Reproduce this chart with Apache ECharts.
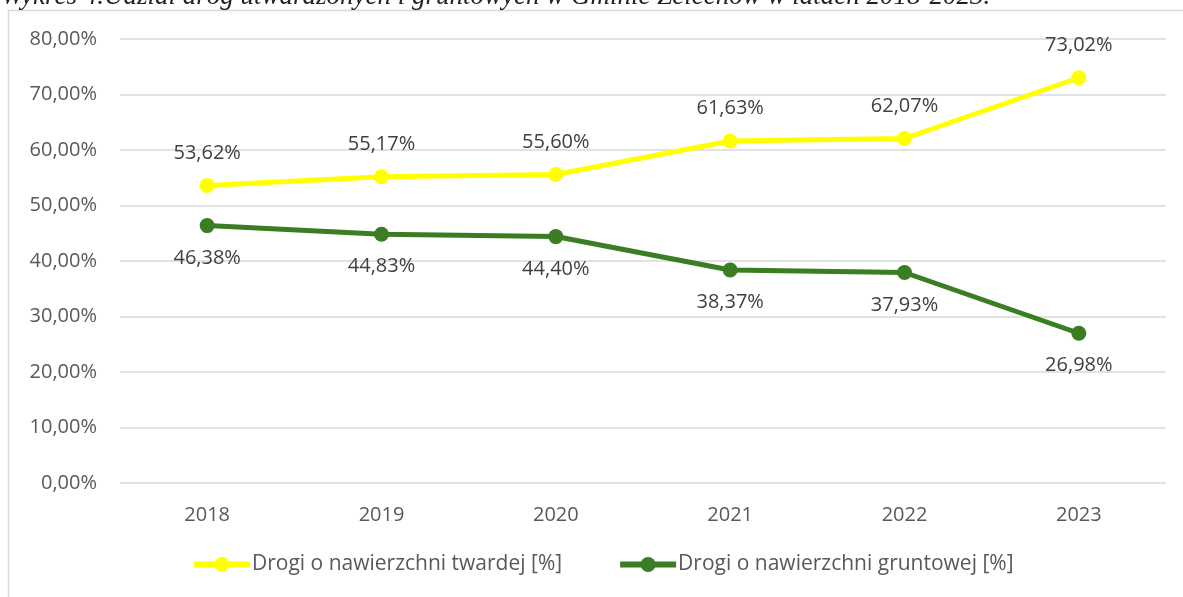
<!DOCTYPE html>
<html lang="pl">
<head>
	<meta charset="UTF-8">
	<title>Wykres 4</title>
	<script src="https://cdn.jsdelivr.net/npm/echarts@6/dist/echarts.min.js"></script>
	<style>
		html, body { margin: 0; padding: 0; background: #fff; }
		#chart { width: 1183px; height: 597px; }
	</style>
</head>
<body>
	<div id="chart"></div>
	<script>
		// dane z wykresu
		var lata = ['2018', '2019', '2020', '2021', '2022', '2023'];
		var twarde = [53.62, 55.17, 55.60, 61.63, 62.07, 73.02];
		var gruntowe = [46.38, 44.83, 44.40, 38.37, 37.93, 26.98];
		var tytul = 'Wykres 4.Udział dróg utwardzonych i gruntowych w Gminie Żelechów w latach 2018-2023.';

		function proc(v) {
			return v.toFixed(2).replace('.', ',') + '%';
		}

		var font = '"Open Sans", "Noto Sans", sans-serif';

		var option = {
			animation: false,
			backgroundColor: '#fff',
			graphic: [
				{
					type: 'rect',
					z: 0,
					shape: { x: 8.5, y: 10.5, width: 1300, height: 700 },
					style: { fill: 'none', stroke: '#d9d9d9', lineWidth: 1.5 }
				},
				{
					type: 'text',
					z: 10,
					x: 1,
					y: 10,
					style: {
						text: tytul,
						font: 'italic 27px "Liberation Serif", "DejaVu Serif", serif',
						fill: '#222',
						verticalAlign: 'bottom'
					}
				}
			],
			grid: { left: 120, top: 39, width: 1046, height: 444 },
			legend: {
				bottom: 17,
				left: 186,
				itemGap: 55,
				itemWidth: 56,
				itemHeight: 19,
				lineStyle: { width: 6 },
				textStyle: { fontFamily: font, fontSize: 21, color: '#595959', padding: [0, 0, 0, -3] },
				data: ['Drogi o nawierzchni twardej [%]', 'Drogi o nawierzchni gruntowej [%]']
			},
			xAxis: {
				type: 'category',
				data: lata,
				boundaryGap: true,
				axisLine: { show: false },
				axisTick: { show: false },
				axisLabel: { fontFamily: font, fontSize: 20, color: '#595959', margin: 22 }
			},
			yAxis: {
				type: 'value',
				min: 0,
				max: 80,
				interval: 10,
				axisLabel: {
					fontFamily: font, fontSize: 20, color: '#595959', margin: 23,
					formatter: function (v) { return proc(v); }
				},
				splitLine: { lineStyle: { color: '#d9d9d9', width: 1.5 } }
			},
			series: [
				{
					name: 'Drogi o nawierzchni twardej [%]',
					type: 'line',
					data: twarde,
					color: '#ffff00',
					symbol: 'circle',
					symbolSize: 15,
					lineStyle: { width: 5, color: '#ffff00' },
					itemStyle: { color: '#ffff00' },
					label: {
						show: true, position: 'top', distance: 15,
						fontFamily: font, fontSize: 20, color: '#404040',
						formatter: function (p) { return proc(p.value); }
					}
				},
				{
					name: 'Drogi o nawierzchni gruntowej [%]',
					type: 'line',
					data: gruntowe,
					color: '#3b7d23',
					symbol: 'circle',
					symbolSize: 15,
					lineStyle: { width: 5, color: '#3b7d23' },
					itemStyle: { color: '#3b7d23' },
					label: {
						show: true, position: 'bottom', distance: 15,
						fontFamily: font, fontSize: 20, color: '#404040',
						formatter: function (p) { return proc(p.value); }
					}
				}
			]
		};

		var myChart = echarts.init(document.getElementById('chart'));
		myChart.setOption(option);
	</script>
</body>
</html>
